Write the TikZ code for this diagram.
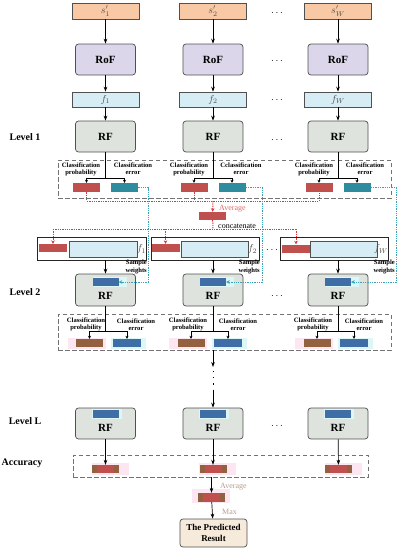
\documentclass[tikz,border=0pt]{standalone}
\usepackage{fontspec}
\setmainfont{Liberation Serif}
\usetikzlibrary{arrows.meta}
\definecolor{peach}{HTML}{F8C9A4}
\definecolor{lav}{HTML}{DCD6EA}
\definecolor{lblue}{HTML}{D6EDF6}
\definecolor{rfg}{HTML}{DEE4DD}
\definecolor{myred}{HTML}{C0504D}
\definecolor{myteal}{HTML}{2E8C9E}
\definecolor{mybrown}{HTML}{936140}
\definecolor{myblue}{HTML}{3E6EA5}
\definecolor{redline}{HTML}{D9383A}
\definecolor{tealline}{HTML}{3AA3B5}
\definecolor{resfill}{HTML}{F6EADB}
\definecolor{bord}{HTML}{505050}
\definecolor{pinkh}{HTML}{FCE6F1}
\definecolor{cyanh}{HTML}{DDF6F6}
\definecolor{avgred}{HTML}{E06A6A}
\definecolor{avgbrown}{HTML}{B59E8E}
\begin{document}
\begin{tikzpicture}[x=1pt,y=-1pt,
 bx/.style={draw=bord,line width=0.7pt,inner sep=0pt,align=center},
 sbox/.style={bx,fill=peach,minimum width=67pt,minimum height=16pt,text=black!70},
 rofbox/.style={bx,fill=lav,rounded corners=3pt,minimum width=60pt,minimum height=31pt,font=\fontsize{11}{12}\selectfont\bfseries},
 fbox/.style={bx,fill=lblue,minimum width=67pt,minimum height=15pt,text=black!70},
 rfbox/.style={bx,fill=rfg,rounded corners=3pt,minimum width=60pt,minimum height=31pt,font=\fontsize{11}{12}\selectfont\bfseries},
 rftxt/.style={inner sep=0pt,font=\fontsize{11}{12}\selectfont\bfseries},
 rr/.style={fill=myred,minimum width=27pt,minimum height=9pt,inner sep=0pt},
 tr/.style={fill=myteal,minimum width=27pt,minimum height=9pt,inner sep=0pt},
 brr/.style={fill=mybrown,minimum width=27pt,minimum height=8pt,inner sep=0pt},
 blr/.style={fill=myblue,minimum width=28pt,minimum height=8pt,inner sep=0pt},
 inr/.style={fill=myblue,minimum width=26pt,minimum height=8pt,inner sep=0pt},
 redin/.style={fill=myred,minimum width=17pt,minimum height=8pt,inner sep=0pt},
 halo/.style={inner sep=0pt},
 arr/.style={-{Stealth[length=5pt,width=3.6pt]},line width=0.7pt},
 sarr/.style={-{Stealth[length=3pt,width=3pt]},line width=0.6pt},
 ln/.style={line width=0.7pt},
 reddot/.style={draw=redline,line width=1pt,dash pattern=on 1.3pt off 1pt},
 tealdot/.style={draw=tealline,line width=1pt,dash pattern=on 1.3pt off 1pt},
 dbox/.style={draw=black!55,dash pattern=on 4.5pt off 2.5pt,line width=0.7pt,inner sep=0pt},
 lbl/.style={font=\fontsize{6.6}{7.2}\selectfont\bfseries,align=center,inner sep=0pt},
 lev/.style={font=\fontsize{10}{11}\selectfont\bfseries,inner sep=0pt},
 hdots/.style={font=\fontsize{10}{10}\selectfont,inner sep=0pt},
 note/.style={font=\fontsize{8}{9}\selectfont,inner sep=0pt,anchor=west}
]
\useasboundingbox (0,0) rectangle (401,550);

% ---------- top rows ----------
\node[sbox] (s1) at (105.5,11) {$s'_1$};
\node[sbox] (s2) at (213,11) {$s'_2$};
\node[sbox] (s3) at (338,11) {$s'_W$};
\node[rofbox] (rof1) at (105.5,59.5) {RoF};
\node[rofbox] (rof2) at (213,59.5) {RoF};
\node[rofbox] (rof3) at (338,59.5) {RoF};
\node[fbox] (f1) at (105.5,99.5) {$f_1$};
\node[fbox] (f2) at (213,99.5) {$f_2$};
\node[fbox] (f3) at (338,99.5) {$f_W$};
\node[rfbox] (rfa1) at (105.5,136.5) {RF};
\node[rfbox] (rfa2) at (213,136.5) {RF};
\node[rfbox] (rfa3) at (338,136.5) {RF};
\foreach \i in {1,2,3}{
  \draw[arr] (s\i) -- (rof\i);
  \draw[arr] (rof\i) -- (f\i);
  \draw[arr] (f\i) -- (rfa\i);
}
\node[hdots] (d1) at (277,13) {$\cdots$};
\node[hdots] (d2) at (277,61) {$\cdots$};
\node[hdots] (d3) at (277,100) {$\cdots$};
\node[hdots] (d4) at (277,140) {$\cdots$};
\node[lev] (lev1) at (25,137) {Level 1};

% ---------- level 1 outputs ----------
\node[dbox,minimum width=333pt,minimum height=38pt] (db1) at (224.5,179) {};
\node[rr] (pr1) at (86.5,187.5) {};
\node[tr] (er1) at (124.5,187.5) {};
\node[rr] (pr2) at (194,187.5) {};
\node[tr] (er2) at (232,187.5) {};
\node[rr] (pr3) at (319,187.5) {};
\node[tr] (er3) at (357,187.5) {};
\coordinate (ta1) at (105.5,178);
\coordinate (ta2) at (213,178);
\coordinate (ta3) at (338,178);
\foreach \i in {1,2,3}{
  \draw[ln] (rfa\i) -- (ta\i);
  \draw[sarr] (ta\i) -| (pr\i);
  \draw[sarr] (ta\i) -| (er\i);
}
\node[lbl] (cp1) at (81,169) {Classification\\probability};
\node[lbl] (ce1) at (133,169) {Classification\\error};
\node[lbl] (cp2) at (189,169) {Classification\\probability};
\node[lbl] (ce2) at (241,169) {Cclassification\\error};
\node[lbl] (cp3) at (314,169) {Classification\\probability};
\node[lbl] (ce3) at (365,169) {Classification\\error};

% ---------- average / concatenate ----------
\node[rr,minimum height=8pt] (avg1) at (212.5,216) {};
\node[note,text=avgred] (avgt1) at (219,209) {Average};
\node[note] (conc) at (218,226) {concatenate};
\coordinate (rj) at (213,201);
\coordinate (cj) at (213,229);
\draw[reddot] (pr1.south) -- (pr1.south |- rj) -- (pr3.south |- rj) -- (pr3.south);
\draw[reddot] (pr2.south) -- (pr2.south |- rj);
\draw[reddot,-{Stealth[length=3.5pt,width=3.5pt]}] (rj) -- (avg1);
\draw[reddot] (avg1) -- (cj);

% ---------- level 2 inputs ----------
\node[bx,draw=black!85,minimum width=109pt,minimum height=23pt] (in1) at (91.5,248.5) {};
\node[bx,draw=black!85,minimum width=108pt,minimum height=23pt] (in2) at (205,248.5) {};
\node[bx,draw=black!85,minimum width=108pt,minimum height=23pt] (in3) at (334,248.5) {};
\node[rr,minimum width=28pt,minimum height=8pt] (ir1) at (53,248) {};
\node[rr,minimum width=28pt,minimum height=8pt] (ir2) at (165.5,248) {};
\node[rr,minimum width=28pt,minimum height=8pt] (ir3) at (296,248.5) {};
\node[bx,fill=lblue,minimum width=68pt,minimum height=16pt] (ib1) at (103,249) {};
\node[bx,fill=lblue,minimum width=67pt,minimum height=16pt] (ib2) at (214.5,249) {};
\node[bx,fill=lblue,minimum width=67pt,minimum height=16pt] (ib3) at (343.5,249) {};
\node[inner sep=0pt,text=black!70] (fl1) at (141.5,249) {$f_1$};
\node[inner sep=0pt,text=black!70] (fl2) at (252.5,249) {$f_2$};
\node[inner sep=0pt,text=black!70] (fl3) at (381,249) {$f_W$};
\node[hdots] (d5) at (272,250) {$\cdots$};
\draw[reddot] (ir1.north |- cj) -- (ir3.north |- cj);
\foreach \i in {1,2,3}{
  \draw[reddot,-{Stealth[length=3.5pt,width=3.5pt]}] (ir\i.north |- cj) -- (ir\i.north);
}

% ---------- level 2 RF ----------
\node[rfbox,minimum height=32pt] (rfb1) at (105.5,290) {};
\node[rfbox,minimum height=32pt] (rfb2) at (213,290) {};
\node[rfbox,minimum height=32pt] (rfb3) at (338,290) {};
\foreach \i/\c in {1/105.5,2/213,3/338}{
  \node[halo,fill=cyanh,minimum width=34pt,minimum height=10pt] (hb\i) at (\c+4,282) {};
  \node[inr] (sw\i) at (\c,282) {};
  \node[rftxt] (rfbt\i) at (\c,296) {RF};
  \draw[arr] (in\i.south -| rfb\i) -- (rfb\i);
}
\node[hdots] (d6) at (277,296) {$\cdots$};
\node[lev] (lev2) at (25,292) {Level 2};
\node[lbl,anchor=east,align=right] (swt1) at (147,267) {Sample\\weights};
\node[lbl,anchor=east,align=right] (swt2) at (260,267) {Sample\\weights};
\node[lbl,anchor=east,align=right] (swt3) at (395,267) {Sample\\weights};
\coordinate (w1) at (148,0);
\coordinate (w2) at (262,0);
\coordinate (w3) at (396,0);
\foreach \i in {1,2,3}{
  \draw[tealdot,-{Stealth[length=3.5pt,width=3.5pt]}] (er\i.east) -| (w\i |- sw\i) -- (sw\i.east);
}

% ---------- level 2 outputs ----------
\node[dbox,minimum width=333pt,minimum height=36pt] (db2) at (224.5,332) {};
\foreach \i/\c/\b/\u in {1/105.5/89.5/127,2/213/191/228,3/338/317/354}{
  \node[halo,fill=pinkh,minimum width=38pt,minimum height=11pt] (hp\i) at (\b-3,343) {};
  \node[halo,fill=cyanh,minimum width=35pt,minimum height=11pt] (hc\i) at (\u+1,343) {};
  \node[brr] (bo\i) at (\b,343) {};
  \node[blr] (bu\i) at (\u,343) {};
  \coordinate (tb\i) at (\c,331);
  \draw[ln] (rfb\i) -- (tb\i);
  \draw[sarr] (tb\i) -| (bo\i);
  \draw[sarr] (tb\i) -| (bu\i);
}
\node[lbl] (cq1) at (86,324.5) {Classification\\probability};
\node[lbl] (cf1) at (136,324.5) {Classification\\error};
\node[lbl] (cq2) at (188,324.5) {Classification\\probability};
\node[lbl] (cf2) at (238,324.5) {Classification\\error};
\node[lbl] (cq3) at (313,324.5) {Classification\\probability};
\node[lbl] (cf3) at (364,324.5) {Classification\\error};

% ---------- vertical ellipsis ----------
\coordinate (dd1) at (213,367);
\coordinate (dd2) at (213,371);
\coordinate (dd3) at (213,391);
\draw[arr] (db2.south -| dd1) -- (dd1);
\draw[line width=1pt,dash pattern=on 1.2pt off 5pt] (dd2) -- (dd3);

% ---------- level L ----------
\node[rfbox] (rfc1) at (105.5,423.5) {};
\node[rfbox] (rfc2) at (213,423.5) {};
\node[rfbox] (rfc3) at (338,423.5) {};
\draw[arr] (dd3) -- (rfc2);
\foreach \i/\c in {1/105.5,2/213,3/338}{
  \node[halo,fill=cyanh,minimum width=30pt,minimum height=10pt] (hl\i) at (\c+1,414) {};
  \node[inr] (lw\i) at (\c,414) {};
  \node[rftxt] (rfct\i) at (\c,428) {RF};
}
\node[hdots] (d7) at (277,426) {$\cdots$};
\node[lev] (levl) at (25,421) {Level L};

% ---------- accuracy ----------
\node[dbox,minimum width=295pt,minimum height=22pt] (dba) at (220.5,466) {};
\node[lev] (acct) at (22,463.5) {Accuracy};
\foreach \i/\c in {1/105.5,2/213,3/338.5}{
  \node[halo,fill=pinkh,minimum width=37pt,minimum height=12pt] (ha\i) at (\c+4.5,469) {};
  \node[brr] (ac\i) at (\c,469) {};
  \node[redin] (acr\i) at (\c,469) {};
  \draw[arr] (rfc\i) -- (ac\i);
}

% ---------- final ----------
\node[halo,fill=pinkh,minimum width=38pt,minimum height=14pt] (hf) at (211,496) {};
\node[brr,minimum height=9pt] (avg2) at (211.5,497.5) {};
\node[redin,minimum height=9pt] (avg2r) at (211.5,497.5) {};
\draw[arr] (dba.south -| avg2) -- (avg2);
\node[note,text=avgbrown] (avgt2) at (220,487) {Average};
\node[note,text=avgbrown] (maxt) at (222,512) {Max};
\node[bx,fill=resfill,rounded corners=3pt,minimum width=67pt,minimum height=28pt,
      font=\fontsize{9}{11}\selectfont\bfseries] (res) at (213.5,533) {The Predicted\\Result};
\draw[arr] (avg2) -- (res);
\end{tikzpicture}
\end{document}
